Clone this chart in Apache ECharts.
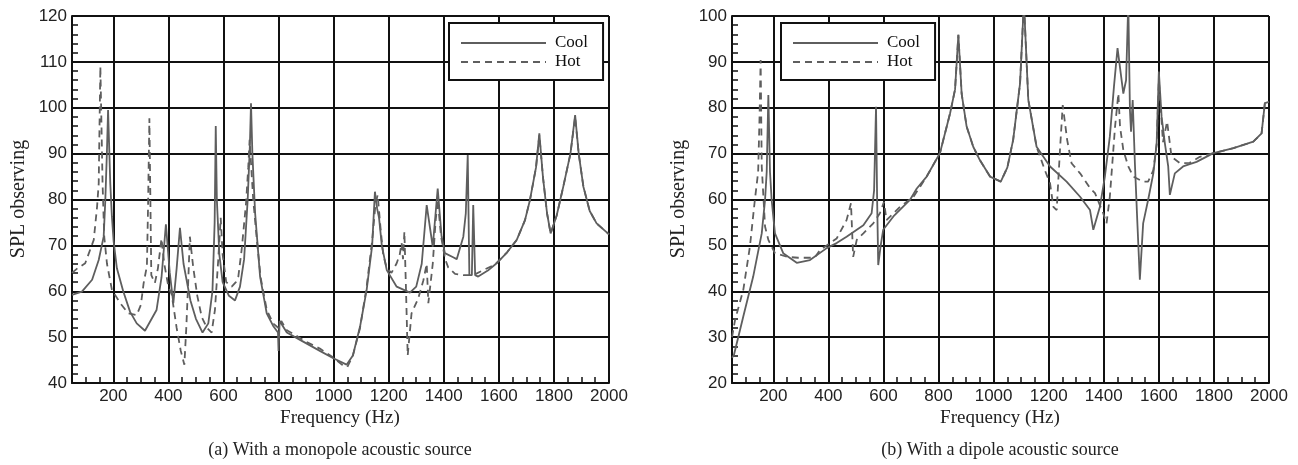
<!DOCTYPE html>
<html>
<head>
<meta charset="utf-8">
<script src="https://cdn.jsdelivr.net/npm/echarts@6/dist/echarts.min.js"></script>
<style>
html,body{margin:0;padding:0;background:#fff;}
#main{width:1298px;height:465px;}
</style>
</head>
<body>
<div id="main"></div>
<script>
// ---------- DATA ----------
const xMajorTicks = [200, 400, 600, 800, 1000, 1200, 1400, 1600, 1800, 2000];

// (a) monopole - Cool
const coolA_f = [50,86,123,147,165,171,177,181,189,195,201,213,236,261,285,315,357,375,391,405,418,430,442,455,480,500,524,545,560,568,572,576,585,597,620,642,660,675,688,696,700,705,715,733,757,780,798,800,804,830,878,950,999,1047,1070,1096,1120,1140,1150,1158,1165,1175,1193,1229,1277,1300,1320,1338,1360,1378,1392,1404,1434,1447,1471,1480,1487,1493,1502,1507,1514,1525,1560,1592,1630,1665,1695,1713,1735,1747,1760,1775,1788,1810,1834,1860,1877,1890,1907,1930,1955,2000];
const coolA_v = [59.2,59.9,62.5,66.8,71.9,79.9,90.8,99.5,83.5,76.2,71,65,60,55.5,53,51.4,55.9,63,74.6,64,57.4,65,73.8,66,58,54,51,53,60,75,96,80,68,62,59,58,61,67,80,92,101,90,77,63.2,55.2,52.5,51,47,53.5,51,49.4,47,45.4,44,46,52.3,60.3,70,81.7,78,76,70,64.6,61,59.7,61,66,78.8,69.7,82.4,72,68.3,67.4,67,71.9,77,89.7,63.5,63.5,78.8,63.5,63.2,64.5,66.1,68.5,71.2,75.5,79.9,87,94.4,85,77,72.6,76.5,82.8,90,98.4,90,82.8,77.5,74.8,72.4];

// (a) monopole - Hot
const hotA_f = [50,70,98,129,141,147,153,161,167,177,195,224,254,285,300,310,322,326,331,338,351,362,375,385,400,412,430,445,458,465,472,478,490,505,521,540,557,569,581,590,597,610,630,645,654,666,682,690,695,700,708,720,735,757,780,800,810,830,860,900,950,1000,1030,1050,1070,1096,1120,1140,1152,1160,1170,1180,1193,1210,1229,1240,1247,1252,1257,1263,1269,1283,1307,1326,1338,1344,1350,1360,1370,1378,1390,1405,1416,1441,1471,1507,1543,1586,1630,1665,1695,1713,1735,1747,1760,1775,1788,1810,1834,1860,1877,1890,1907,1930,1955,2000];
const hotA_v = [64,65,66.1,71.2,78.4,83.5,109,83.5,71.9,66,60.3,57.5,55.2,54.8,57,61.7,65.5,77.9,97.7,63.5,61.8,65,71.5,66,61,59.3,52,47,44,52,62,71.9,65.3,59,54.4,52,51,55.9,66.8,76,68,62,61,62,63.2,69,79.2,87,93,88,80,72,63,56,53,52,53.5,51.5,50.5,49,47.5,45.5,44,43.5,46,52,61,71,79,81,74,68,65,64,66.1,68,70.5,67,73,60,46,55.2,58.4,62.4,66,57.4,57,66,75,80,72,67,65.2,63.8,63.5,63.5,64.6,65.8,68.5,71.2,75.5,79.9,87,94,85,77,72.6,76.5,82.8,90,98,90,82.8,77.5,74.8,72.4];

// (b) dipole - Cool
const coolB_f = [50,57,91,127,158,170,176,182,188,194,206,236,285,333,394,430,466,527,557,566,573,577,581,590,599,636,696,721,757,805,842,860,872,884,902,926,950,987,1026,1050,1071,1096,1110,1126,1156,1205,1265,1314,1350,1362,1386,1404,1422,1437,1450,1471,1481,1489,1495,1499,1505,1513,1521,1531,1543,1561,1580,1592,1600,1610,1622,1634,1640,1658,1688,1712,1737,1798,1871,1943,1973,1985,2000];
const coolB_v = [25.5,26.1,34.5,43.2,52.6,59.9,66,82.8,66,59.9,52.6,48.3,46.2,46.8,49.4,50.5,51.9,54.4,57,62,80.2,60,45.7,50,53.4,56.3,59.9,62.4,65,70.1,78.8,84,95.9,83,75.9,71.5,68.6,65,63.9,67,73,85.3,103,81.7,71.5,67.2,63.9,60.6,57.7,53.4,58.4,65,73.7,84.6,93,83.1,86,103,79.5,74.8,81.7,67.9,56.3,42.5,54.8,59.9,65.7,72.2,87.9,78,72.2,67.2,61,65.7,67.2,67.7,68.2,70.1,71.2,72.6,74.4,81,81.3];

// (b) dipole - Hot
const hotB_f = [50,61,91,115,133,145,150,154,158,170,182,206,250,290,350,370,430,466,482,490,503,527,563,587,602,611,660,709,757,805,842,860,872,884,902,926,950,987,1026,1050,1071,1096,1110,1126,1156,1186,1205,1217,1229,1241,1251,1267,1283,1314,1350,1368,1398,1410,1422,1432,1441,1453,1459,1471,1489,1507,1543,1561,1580,1592,1600,1615,1630,1646,1677,1712,1749,1798,1871,1943,1973,1985,2000];
const hotB_v = [30,33.7,40.3,49.7,59.9,66,78,90.4,67.2,54.1,51.2,48.3,47.5,47.3,47.3,49,51.5,55.5,59.2,47.5,51.2,52.6,54.8,57,59.5,55.5,58.4,60.6,65,70.1,78.8,84,95.9,83,75.9,71.5,68.6,65,63.9,67,73,85.3,103,81.7,71.5,66.4,63.5,58.4,57.7,70.8,80.6,73,67.9,65.7,62.5,61.4,57,54.8,60.6,68.6,75.9,83.1,75.9,70.8,67.2,65,63.9,63.9,66.4,72,86,72.5,77,69.3,67.9,68,69.3,70.1,71.2,72.6,74.4,81,81.3];

// ---------- CHART ----------
function zip(f, v) { return f.map((x, i) => [x, v[i]]); }

const LINE_COLOR = '#5e5e5e';
const GRID_COLOR = '#111';
const SANS = 'Liberation Sans';
const SERIF = 'Liberation Serif';

function mainX(gi) {
  return {
    type: 'value', gridIndex: gi, min: 50, max: 2000, interval: 50,
    axisLine: { show: true, lineStyle: { color: GRID_COLOR, width: 2 } },
    axisTick: { show: true, inside: true, length: 6, lineStyle: { color: GRID_COLOR, width: 1.5 } },
    axisLabel: {
      show: true, margin: 5, color: '#222', fontFamily: SANS, fontSize: 17,
      formatter: v => (v % 200 === 0 ? String(v) : '')
    },
    splitLine: { show: false }
  };
}
function gridX(gi) {
  return {
    type: 'value', gridIndex: gi, min: 50, max: 2000, position: 'bottom',
    axisLine: { show: false },
    axisTick: { show: false, customValues: xMajorTicks },
    axisLabel: { show: false },
    splitLine: { show: true, lineStyle: { color: GRID_COLOR, width: 2 } }
  };
}
function yAx(gi, mn, mx) {
  return {
    type: 'value', gridIndex: gi, min: mn, max: mx, interval: 10,
    axisLine: { show: true, lineStyle: { color: GRID_COLOR, width: 2 } },
    axisTick: { show: true, inside: true, length: 6, lineStyle: { color: GRID_COLOR, width: 1.5 } },
    minorTick: { show: true, splitNumber: 5, length: 6, lineStyle: { color: GRID_COLOR, width: 1.5 } },
    axisLabel: { margin: 5, color: '#222', fontFamily: SANS, fontSize: 17 },
    splitLine: { show: true, lineStyle: { color: GRID_COLOR, width: 2 } }
  };
}
function legendAt(left) {
  return {
    left: left, top: 23, orient: 'vertical', data: ['Cool', 'Hot'],
    backgroundColor: '#fff', borderColor: GRID_COLOR, borderWidth: 2, borderRadius: 0,
    padding: [11, 15, 9, 11], itemWidth: 85, itemHeight: 18, itemGap: 1,
    selectedMode: false,
    itemStyle: { color: 'transparent', borderColor: 'transparent', borderWidth: 0, opacity: 0 },
    textStyle: { fontFamily: SERIF, fontSize: 17, color: '#111', lineHeight: 18, padding: [0, 0, 0, 4] }
  };
}
function series(name, xi, yi, data, dashed) {
  return {
    name: name, type: 'line', xAxisIndex: xi, yAxisIndex: yi, data: data,
    symbol: 'none', showSymbol: false, smooth: false, animation: false, clip: true,
    lineStyle: { color: LINE_COLOR, width: 1.8, type: dashed ? [7, 5] : 'solid' },
    itemStyle: { color: LINE_COLOR }
  };
}

const chart = echarts.init(document.getElementById('main'), null, { renderer: 'canvas' });
chart.setOption({
  animation: false,
  backgroundColor: '#fff',
  grid: [
    { left: 72, right: 1298 - 609, top: 16, bottom: 465 - 383, containLabel: false },
    { left: 732, right: 1298 - 1269, top: 16, bottom: 465 - 383, containLabel: false }
  ],
  xAxis: [mainX(0), gridX(0), mainX(1), gridX(1)],
  yAxis: [yAx(0, 40, 120), yAx(1, 20, 100)],
  legend: [legendAt(449), legendAt(781)],
  series: [
    series('Cool', 0, 0, zip(coolA_f, coolA_v), false),
    series('Hot', 0, 0, zip(hotA_f, hotA_v), true),
    series('Cool', 2, 1, zip(coolB_f, coolB_v), false),
    series('Hot', 2, 1, zip(hotB_f, hotB_v), true)
  ],
  graphic: [
    { type: 'text', x: 19, y: 199, rotation: Math.PI / 2, style: { text: 'SPL observing', fontFamily: SERIF, fontSize: 20, fill: '#222', textAlign: 'center', textVerticalAlign: 'middle' } },
    { type: 'text', x: 340, y: 418, style: { text: 'Frequency (Hz)', fontFamily: SERIF, fontSize: 19, fill: '#222', textAlign: 'center', textVerticalAlign: 'middle' } },
    { type: 'text', x: 340, y: 450, style: { text: '(a) With a monopole acoustic source', fontFamily: SERIF, fontSize: 18, fill: '#222', textAlign: 'center', textVerticalAlign: 'middle' } },
    { type: 'text', x: 679, y: 199, rotation: Math.PI / 2, style: { text: 'SPL observing', fontFamily: SERIF, fontSize: 20, fill: '#222', textAlign: 'center', textVerticalAlign: 'middle' } },
    { type: 'text', x: 1000, y: 418, style: { text: 'Frequency (Hz)', fontFamily: SERIF, fontSize: 19, fill: '#222', textAlign: 'center', textVerticalAlign: 'middle' } },
    { type: 'text', x: 1000, y: 450, style: { text: '(b) With a dipole acoustic source', fontFamily: SERIF, fontSize: 18, fill: '#222', textAlign: 'center', textVerticalAlign: 'middle' } }
  ]
});
</script>
</body>
</html>
